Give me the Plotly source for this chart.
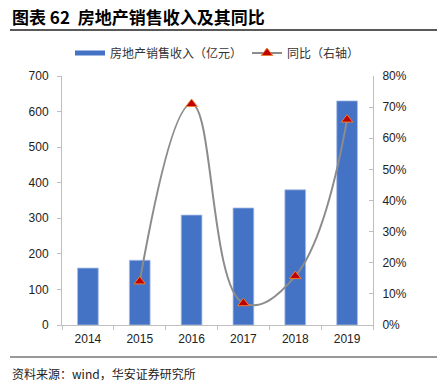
import plotly.graph_objects as go

years = ["2014", "2015", "2016", "2017", "2018", "2019"]
revenue = [160, 182, 309, 329, 380, 630]
yoy = [None, 0.14, 0.71, 0.07, 0.157, 0.66]

W, H = 437, 387
ML, MR, MT, MB = 62, 64, 76, 62
PW, PH = W - ML - MR, H - MT - MB

def px(x):
    return (x - ML) / PW

def py(y):
    return (H - MB - y) / PH

CJK = "Noto Sans CJK SC"
LAT = "Liberation Sans, Arial"
axis_col = "#bfbfbf"

fig = go.Figure()
fig.add_trace(go.Bar(
    x=years, y=revenue, name="房地产销售收入（亿元）", showlegend=False,
    marker=dict(color="#4472C4", line=dict(color="#A9BDE6", width=0.8)),
    width=0.4, yaxis="y",
))
# legend proxy for bars (drawn as a thick line like the reference)
fig.add_trace(go.Scatter(
    x=[None], y=[None], mode="lines", name="房地产销售收入（亿元）",
    line=dict(color="#4472C4", width=5), yaxis="y",
))
fig.add_trace(go.Scatter(
    x=years, y=yoy, name="同比（右轴）", mode="lines+markers", yaxis="y2",
    line=dict(color="#8c8c8c", width=2, shape="spline", smoothing=1.2),
    marker=dict(symbol="triangle-up", size=10, color="#C00000",
                line=dict(color="#ED7D31", width=1)),
))

fig.update_layout(
    width=W, height=H, margin=dict(l=ML, r=MR, t=MT, b=MB, autoexpand=False),
    paper_bgcolor="white", plot_bgcolor="white",
    font=dict(family=LAT, size=12, color="#333333"),
    title=dict(text="<b>图表 62  房地产销售收入及其同比</b>", x=12 / W, xanchor="left",
               y=1 - 18 / H, yanchor="middle", xref="container", yref="container",
               font=dict(family=CJK, size=17, color="#000000")),
    legend=dict(orientation="h", x=px(70), y=py(53), xanchor="left", yanchor="middle",
                font=dict(family=CJK, size=12, color="#333333"),
                itemwidth=30, tracegroupgap=0, bgcolor="rgba(0,0,0,0)"),
    xaxis=dict(type="category", showline=True, linecolor=axis_col, linewidth=1,
               ticks="outside", ticklen=4, tickcolor=axis_col, showgrid=False,
               tickson="boundaries", tickfont=dict(family=LAT, size=12, color="#222222"),
               ticklabelstandoff=3, mirror=False),
    yaxis=dict(range=[0, 700], dtick=100, showline=True, linecolor=axis_col, linewidth=1,
               ticks="outside", ticklen=4, tickcolor=axis_col, showgrid=False,
               tickfont=dict(family=LAT, size=12, color="#222222"), ticklabelstandoff=6,
               zeroline=False),
    yaxis2=dict(range=[0, 0.8], dtick=0.1, tickformat=".0%", overlaying="y", side="right",
                showline=True, linecolor=axis_col, linewidth=1, ticks="inside", ticklen=4,
                tickcolor=axis_col, showgrid=False, zeroline=False,
                tickfont=dict(family=LAT, size=12, color="#222222"), ticklabelstandoff=6),
)

fig.add_shape(type="line", xref="paper", yref="paper", x0=px(10), x1=px(437),
              y0=py(30), y1=py(30), line=dict(color="#222222", width=1.5))
fig.add_shape(type="line", xref="paper", yref="paper", x0=px(10), x1=px(437),
              y0=py(357), y1=py(357), line=dict(color="#333333", width=1))
fig.add_annotation(text="资料来源：wind，华安证券研究所", xref="paper", yref="paper",
                   x=px(10), y=py(373), xanchor="left", yanchor="middle", showarrow=False,
                   font=dict(family=CJK, size=12, color="#222222"))

fig.write_html("out.html", config={"displayModeBar": False},
               post_script="document.body.style.margin='0px';")
